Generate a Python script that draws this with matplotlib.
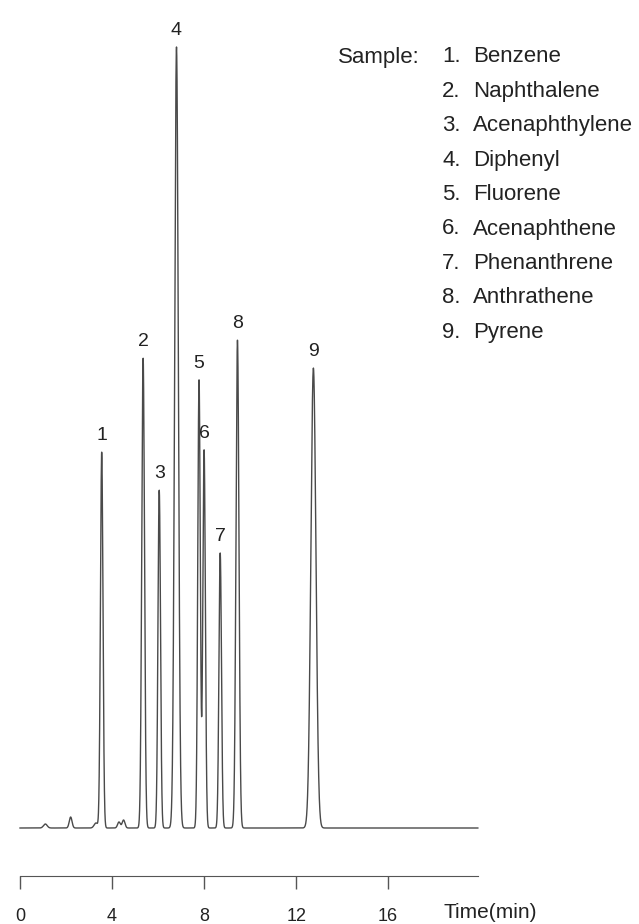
import numpy as np
import matplotlib
matplotlib.use('Agg')
import matplotlib.pyplot as plt

# datos del cromatograma
peak_labels = ['1', '2', '3', '4', '5', '6', '7', '8', '9']
peak_times = [3.55, 5.35, 6.05, 6.80, 7.78, 8.00, 8.70, 9.45, 12.75]
peak_heights = [376, 470, 338, 781, 448, 378, 275, 488, 460]
peak_widths = [0.055, 0.06, 0.055, 0.08, 0.055, 0.055, 0.055, 0.065, 0.11]

# picos chicos de la linea de base
minor_times = [1.10, 2.20, 3.30, 4.30, 4.50]
minor_heights = [4, 11, 5, 6, 8]
minor_widths = [0.08, 0.06, 0.08, 0.06, 0.06]

compounds = ['Benzene', 'Naphthalene', 'Acenaphthylene', 'Diphenyl', 'Fluorene',
             'Acenaphthene', 'Phenanthrene', 'Anthrathene', 'Pyrene']

tick_values = [0, 4, 8, 12, 16]


def signal(t):
    y = np.zeros_like(t)
    for tc, h, w in zip(peak_times + minor_times, peak_heights + minor_heights,
                        peak_widths + minor_widths):
        y += h * np.exp(-0.5 * ((t - tc) / w) ** 2)
    return y


def report():
    plt.rcParams['font.family'] = ['Liberation Sans', 'DejaVu Sans']
    fig = plt.figure(figsize=(6.39, 9.24), dpi=100)
    ax = fig.add_axes([0, 0, 1, 1])
    ax.set_xlim(-0.87, 26.9)
    ax.set_ylim(-96, 828)

    t = np.arange(0.0, 19.9, 0.004)
    ax.plot(t, signal(t), color='#4a4a4a', lw=1.0)

    # numeros sobre los picos
    for lab, tc, h in zip(peak_labels, peak_times, peak_heights):
        ax.text(tc, h + 8, lab, ha='center', va='bottom', fontsize=14, color='#222222')

    # lista de compuestos
    ax.text(13.83, 771, 'Sample:', ha='left', va='center', fontsize=16, color='#222222')
    for i, name in enumerate(compounds):
        y = 771 - 34.4 * i
        ax.text(18.35, y, str(i + 1) + '.', ha='left', va='center', fontsize=16, color='#222222')
        ax.text(19.7, y, name, ha='left', va='center', fontsize=16, color='#222222')

    # eje de tiempo
    for s in ['top', 'right', 'left']:
        ax.spines[s].set_visible(False)
    ax.spines['bottom'].set_position(('data', -48))
    ax.spines['bottom'].set_bounds(0, 19.9)
    ax.spines['bottom'].set_color('#555555')
    ax.set_yticks([])
    ax.set_xticks(tick_values)
    ax.set_xticklabels([str(v) for v in tick_values])
    ax.tick_params(axis='x', direction='out', length=9, width=1, colors='#555555',
                   labelcolor='#222222', labelsize=13, pad=14)
    ax.text(18.4, -84, 'Time(min)', ha='left', va='center', fontsize=15, color='#222222')

    fig.savefig('out.png', dpi=100)


if __name__ == '__main__':
    report()
